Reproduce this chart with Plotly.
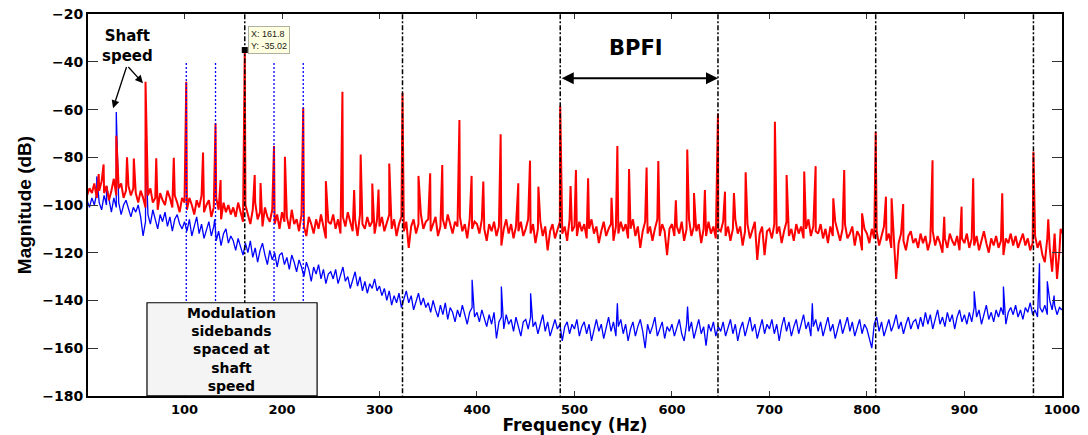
import numpy as np
import plotly.graph_objects as go

STEP = 2.5  # Hz between background (noise floor) samples

# Red spectrum (faulty bearing) noise floor, dB, every 2.5 Hz from 0 Hz
red_floor = [
    -96, -93, -95, -91, -97, -94, -90, -95, -92, -98, -94, -89, -96, -93, -91, -97, -94, -92, -96, -93,
    -95, -99, -94, -97, -101, -96, -93, -99, -97, -102, -95, -98, -100, -94, -97, -101, -96, -99, -103, -97,
    -99, -102, -97, -100, -104, -98, -101, -96, -103, -100, -98, -105, -101, -97, -102, -106, -99, -103, -100, -104,
    -101, -105, -99, -103, -107, -100, -104, -108, -102, -99, -106, -103, -109, -101, -105, -107, -102, -108, -104, -110,
    -103, -107, -105, -110, -102, -108, -106, -111, -104, -109, -113, -105, -108, -112, -106, -110, -104, -109, -114, -107,
    -108, -104, -110, -106, -112, -105, -109, -103, -107, -111, -106, -113, -104, -108, -110, -105, -109, -107, -112, -106,
    -109, -105, -111, -107, -104, -110, -106, -113, -108, -105, -111, -107, -118, -109, -106, -112, -108, -104, -110, -107,
    -106, -111, -108, -105, -113, -109, -106, -110, -104, -108, -112, -107, -109, -105, -111, -108, -114, -106, -110, -107,
    -108, -112, -106, -110, -115, -108, -111, -107, -113, -109, -117, -110, -106, -112, -108, -114, -109, -111, -107, -113,
    -110, -106, -112, -108, -116, -110, -107, -113, -109, -119, -111, -108, -114, -110, -107, -112, -109, -115, -106, -111,
    -109, -113, -107, -111, -108, -114, -110, -106, -112, -109, -116, -111, -107, -113, -110, -108, -115, -109, -112, -107,
    -111, -108, -114, -110, -106, -113, -109, -118, -111, -107, -112, -109, -115, -110, -106, -113, -108, -111, -121, -110,
    -108, -113, -109, -112, -107, -115, -110, -106, -113, -109, -111, -108, -116, -110, -113, -107, -112, -109, -114, -110,
    -111, -107, -113, -109, -115, -110, -106, -112, -109, -117, -111, -108, -114, -110, -107, -123, -112, -109, -121, -111,
    -110, -114, -108, -112, -109, -116, -111, -107, -113, -110, -115, -108, -112, -109, -114, -110, -106, -113, -109, -111,
    -112, -108, -114, -110, -116, -109, -113, -107, -111, -115, -110, -108, -114, -112, -109, -117, -111, -113, -119, -110,
    -112, -116, -110, -114, -111, -117, -113, -109, -115, -112, -118, -114, -131, -116, -112, -115, -119, -113, -111, -116,
    -114, -118, -112, -116, -113, -119, -115, -111, -117, -113, -116, -120, -114, -118, -112, -115, -117, -113, -119, -114,
    -116, -112, -118, -114, -117, -113, -119, -115, -111, -116, -120, -114, -117, -113, -118, -115, -121, -114, -116, -112,
    -117, -113, -118, -115, -112, -117, -114, -119, -116, -113, -118, -115, -121, -124, -114, -118, -128, -112, -131, -119,
    -112,
]

# Blue spectrum (healthy bearing) noise floor, dB, every 2.5 Hz from 0 Hz
blue_floor = [
    -98, -101, -97, -100, -95, -99, -102, -96, -100, -98, -103, -97, -101, -99, -104, -100, -98, -102, -105, -101,
    -103, -100, -105, -113, -107, -104, -108, -102, -106, -110, -104, -107, -103, -109, -105, -111, -106, -104, -108, -110,
    -107, -111, -106, -113, -109, -105, -112, -108, -114, -110, -107, -113, -109, -115, -111, -117, -112, -110, -116, -113,
    -115, -119, -114, -118, -121, -116, -120, -115, -122, -118, -124, -119, -116, -121, -125, -119, -123, -120, -126, -121,
    -120, -125, -122, -127, -121, -124, -128, -123, -126, -130, -124, -127, -132, -126, -129, -125, -131, -127, -133, -129,
    -128, -131, -127, -133, -129, -126, -132, -130, -135, -131, -128, -134, -130, -136, -132, -137, -133, -135, -131, -136,
    -134, -138, -135, -140, -136, -142, -138, -141, -137, -143, -139, -136, -141, -138, -144, -140, -137, -142, -139, -143,
    -141, -145, -140, -144, -147, -142, -146, -141, -148, -143, -145, -149, -144, -147, -142, -146, -150, -145, -143, -147,
    -145, -149, -144, -148, -151, -146, -150, -145, -156, -149, -147, -152, -146, -150, -148, -153, -147, -151, -155, -149,
    -148, -152, -147, -151, -149, -154, -150, -146, -153, -149, -155, -151, -148, -152, -150, -157, -151, -149, -154, -150,
    -152, -148, -155, -151, -149, -154, -150, -157, -152, -148, -153, -150, -156, -151, -147, -153, -149, -155, -151, -148,
    -154, -150, -157, -152, -149, -155, -151, -148, -153, -160, -150, -154, -151, -147, -155, -152, -149, -156, -151, -153,
    -150, -155, -151, -148, -154, -157, -150, -153, -149, -156, -152, -148, -154, -151, -159, -150, -153, -149, -155, -151,
    -153, -149, -155, -151, -148, -154, -150, -157, -152, -149, -155, -151, -147, -153, -150, -156, -152, -148, -154, -150,
    -152, -148, -154, -150, -157, -151, -147, -153, -149, -155, -151, -148, -154, -150, -146, -152, -149, -155, -151, -148,
    -153, -149, -155, -151, -147, -153, -150, -156, -152, -148, -154, -150, -147, -153, -149, -155, -151, -148, -154, -150,
    -152, -156, -160, -150, -147, -153, -149, -155, -151, -148, -153, -150, -146, -152, -149, -154, -150, -147, -152, -149,
    -148, -152, -147, -151, -145, -150, -146, -152, -148, -144, -150, -147, -151, -145, -149, -146, -152, -147, -144, -149,
    -146, -150, -145, -149, -143, -147, -144, -150, -146, -142, -148, -145, -149, -144, -147, -143, -146, -150, -145, -143,
    -146, -142, -147, -144, -148, -143, -145, -141, -146, -144, -147, -143, -145, -142, -146, -140, -144, -142, -146, -143,
    -144,
]

# Discrete spectral peaks
red_peak_hz = [12, 17, 30, 41, 48, 60, 71, 89, 101.8, 119, 131.8, 137, 161.8, 172, 178, 191.8, 203,
               221.8, 245, 262, 274, 280.7, 292.6, 299, 310, 323.6, 340, 352, 364.4, 382, 394.5,
               406.5, 424.3, 442.4, 454.4, 463, 485.4, 496, 501.5, 514, 538, 544, 556, 574, 586,
               604, 615.7, 622.6, 633.8, 647.2, 654.4, 663.6, 675.6, 705.6, 717.6, 735.7, 747.4,
               765.5, 776.7, 795, 809, 819.5, 825.3, 837.2, 867.3, 879.3, 897.1, 909, 938.8,
               970.8, 986, 998.7]
red_peak_db = [-87, -83, -71, -80, -80.5, -48.3, -80.4, -80.2, -48.3, -78, -65.7, -89.5, -35.02, -87.4,
               -90.8, -75.3, -79.8, -59.2, -90, -52.5, -93.7, -78.8, -91, -93.5, -82.6, -53, -87.8,
               -86.7, -83.2, -64.4, -87.8, -90.2, -70.3, -90.9, -81.4, -92.3, -58.5, -92, -85.3,
               -88.8, -97, -75.3, -84.9, -84.3, -81.6, -98, -76.7, -95, -93.7, -61.6, -94.4, -95,
               -86.3, -65.1, -87.4, -86, -83.7, -97.2, -85.3, -103.5, -69.3, -96.5, -97.2, -99.6,
               -81.2, -104.9, -100.7, -88.8, -95.1, -77.7, -106, -110]

blue_peak_hz = [10, 20, 30, 60, 131, 262, 395, 425, 455, 544, 616, 744, 910, 940, 977, 985, 992]
blue_peak_db = [-88, -92, -61, -73, -106, -127, -131.4, -134.2, -137, -141.2, -142.6, -141.2,
                -136.2, -134.2, -124.4, -132, -138]

bpfi_harmonics_hz = [161.8, 323.6, 485.4, 647.2, 809.0, 970.8]
sideband_hz = [101.8, 131.8, 191.8, 221.8]
datatip_x, datatip_y = 161.8, -35.02

x_ticks = [100, 200, 300, 400, 500, 600, 700, 800, 900, 1000]
y_ticks = [-180, -160, -140, -120, -100, -80, -60, -40, -20]


def merge(floor, peak_hz, peak_db):
    fx = np.arange(len(floor)) * STEP
    x = np.concatenate([fx, np.asarray(peak_hz, float)])
    y = np.concatenate([np.asarray(floor, float), np.asarray(peak_db, float)])
    order = np.argsort(x, kind="stable")
    return x[order], y[order]


rx, ry = merge(red_floor, red_peak_hz, red_peak_db)
bx, by = merge(blue_floor, blue_peak_hz, blue_peak_db)

BOLD = dict(family="DejaVu Sans", weight="bold", color="black")

fig = go.Figure()
fig.add_trace(go.Scatter(x=bx, y=by, mode="lines", line=dict(color="#0000ff", width=1.3),
                         showlegend=False, hoverinfo="skip"))
fig.add_trace(go.Scatter(x=rx, y=ry, mode="lines", line=dict(color="#ff0000", width=2),
                         showlegend=False, hoverinfo="skip"))
fig.add_trace(go.Scatter(x=[datatip_x], y=[datatip_y], mode="markers",
                         marker=dict(symbol="square", size=6, color="black"),
                         showlegend=False, hoverinfo="skip"))

shapes = []
for f in sideband_hz:
    shapes.append(dict(type="line", xref="x", yref="y", x0=f, x1=f, y0=-40.5, y1=-141,
                       line=dict(color="#0000ff", width=1.3, dash="2px,2px"), layer="above"))
for f in bpfi_harmonics_hz:
    shapes.append(dict(type="line", xref="x", yref="y", x0=f, x1=f, y0=-20, y1=-180,
                       line=dict(color="black", width=1.5, dash="5px,2px,2px,2px"), layer="above"))
shapes.append(dict(type="rect", xref="x", yref="y", x0=61.5, x1=236, y0=-180, y1=-141,
                   fillcolor="#f4f4f4", line=dict(color="black", width=1.2), layer="above"))

annotations = []
annotations.append(dict(x=148.7, y=-160.5, xref="x", yref="y",
                        text="Modulation<br>sidebands<br>spaced at<br>shaft<br>speed",
                        showarrow=False, font=dict(size=14, **BOLD),
                        xanchor="center", yanchor="middle", align="center"))
annotations.append(dict(x=42, y=-33.2, xref="x", yref="y", text="Shaft<br>speed", showarrow=False,
                        font=dict(size=15, **BOLD), xanchor="center", yanchor="middle",
                        align="center"))
annotations.append(dict(x=563, y=-34.2, xref="x", yref="y", text="BPFI", showarrow=False,
                        font=dict(size=21, **BOLD), xanchor="center", yanchor="middle"))
# shaft speed arrows
for tx, ty in [(26.7, -59.4), (57.4, -48.9)]:
    annotations.append(dict(x=tx, y=ty, ax=41, ay=-41.5, xref="x", yref="y", axref="x", ayref="y",
                            text="", showarrow=True, arrowhead=2, arrowsize=1.2, arrowwidth=1.3,
                            arrowcolor="black"))
# BPFI double arrow
annotations.append(dict(x=bpfi_harmonics_hz[3], y=-46.8, ax=bpfi_harmonics_hz[2], ay=-46.8,
                        xref="x", yref="y", axref="x", ayref="y", text="", showarrow=True,
                        arrowhead=2, startarrowhead=2, arrowside="end+start", arrowsize=1.2,
                        startarrowsize=1.2, arrowwidth=2, arrowcolor="black"))
# data tip
annotations.append(dict(x=165.1, y=-25.0, xref="x", yref="y",
                        text=f"X: {datatip_x}<br>Y: {datatip_y}", showarrow=False,
                        xanchor="left", yanchor="top", align="left",
                        font=dict(family="Liberation Sans", size=9, color="#222"),
                        bgcolor="#ffffe1", bordercolor="#b0b0a0", borderwidth=1, borderpad=2))

fig.update_layout(
    width=1088, height=435,
    margin=dict(l=88, r=26, t=14, b=39),
    paper_bgcolor="white", plot_bgcolor="white",
    shapes=shapes, annotations=annotations,
    xaxis=dict(range=[1, 1000.1], tickvals=x_ticks, ticks="inside", ticklen=5, tickwidth=1,
               tickcolor="#333", showline=True, linewidth=2, linecolor="black", mirror="ticks",
               showgrid=False, zeroline=False, tickfont=dict(size=13, **BOLD),
               title=dict(text="Frequency (Hz)", font=dict(size=17, **BOLD), standoff=6),
               automargin=False),
    yaxis=dict(range=[-180.1, -19.9], tickvals=y_ticks, ticks="inside", ticklen=10, tickwidth=1,
               tickcolor="#333", showline=True, linewidth=2, linecolor="black", mirror="ticks",
               showgrid=False, zeroline=False, tickfont=dict(size=14, **BOLD),
               title=dict(text="Magnitude (dB)",
                          font=dict(family="Liberation Sans", size=19, weight="bold", color="black"),
                          standoff=6),
               automargin=False),
)

fig.write_html("out.html")
